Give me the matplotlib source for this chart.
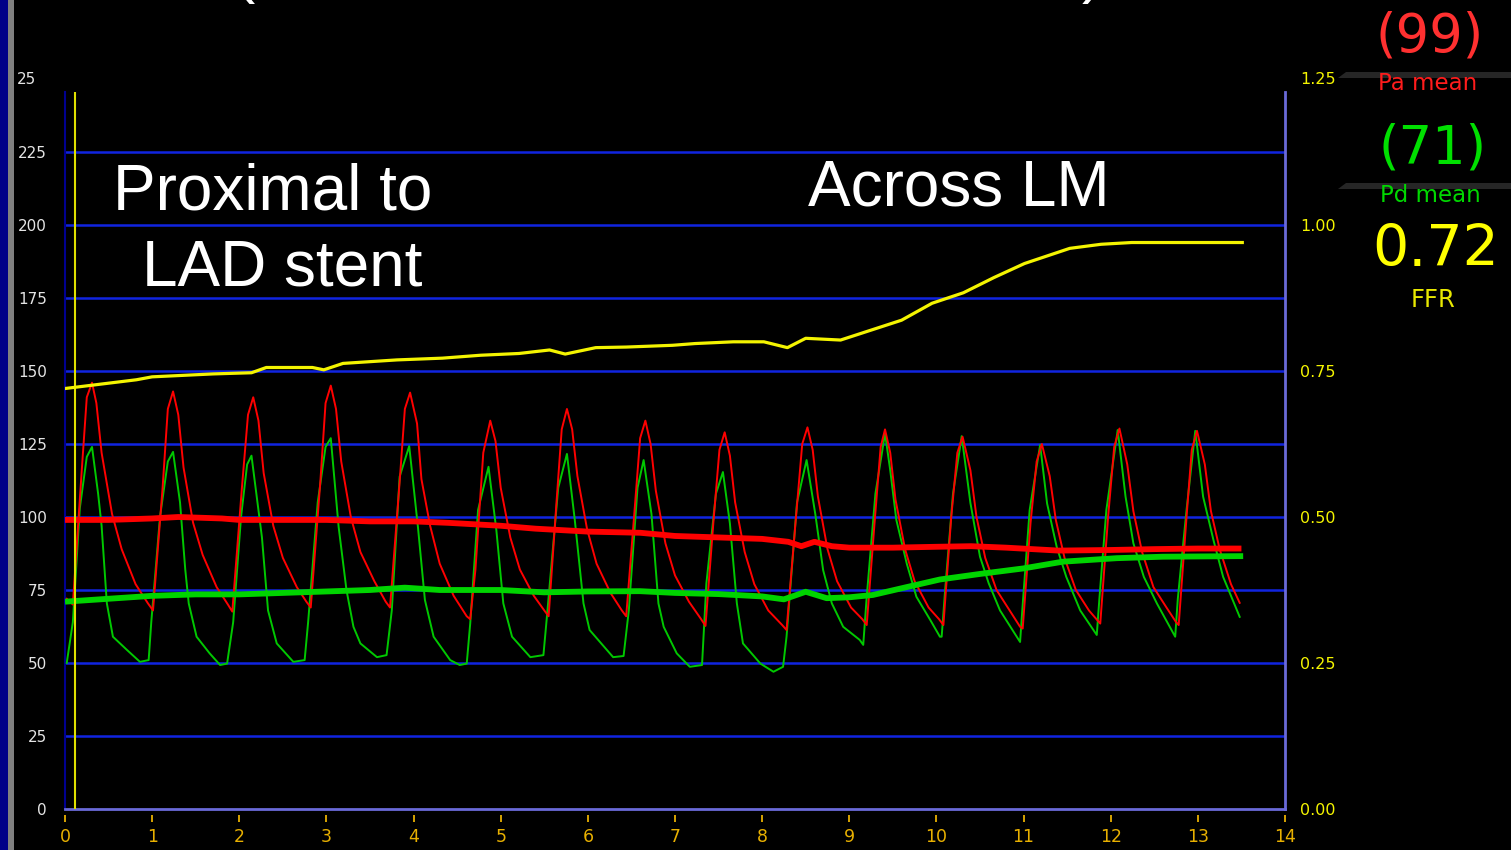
import matplotlib
matplotlib.use("Agg")
import matplotlib.pyplot as plt
import matplotlib.transforms as mtransforms
from matplotlib.patches import Polygon, Rectangle

# Pa (aortic) phasic pressure, mmHg, one line per beat
pa_time = [0.02, 0.06, 0.09,
           0.19, 0.25, 0.31, 0.36, 0.42, 0.54, 0.65, 0.81, 0.95, 1.01,
           1.12, 1.18, 1.24, 1.30, 1.36, 1.47, 1.58, 1.74, 1.87, 1.92,
           2.03, 2.10, 2.16, 2.22, 2.28, 2.39, 2.50, 2.66, 2.77, 2.82,
           2.93, 2.99, 3.05, 3.11, 3.17, 3.28, 3.39, 3.55, 3.68, 3.73,
           3.84, 3.90, 3.96, 4.04, 4.09, 4.19, 4.30, 4.46, 4.61, 4.65,
           4.71, 4.80, 4.88, 4.94, 5.00, 5.11, 5.22, 5.38, 5.50, 5.55,
           5.64, 5.70, 5.76, 5.82, 5.88, 5.99, 6.10, 6.26, 6.39, 6.44,
           6.53, 6.60, 6.66, 6.72, 6.78, 6.89, 7.00, 7.16, 7.30, 7.35,
           7.44, 7.51, 7.57, 7.63, 7.69, 7.80, 7.91, 8.07, 8.23, 8.28,
           8.38, 8.46, 8.52, 8.58, 8.64, 8.75, 8.86, 9.02, 9.15, 9.20,
           9.29, 9.36, 9.41, 9.47, 9.53, 9.64, 9.75, 9.91, 10.03, 10.08,
           10.17, 10.24, 10.30, 10.39, 10.46, 10.56, 10.69, 10.84, 10.96, 10.99,
           11.08, 11.15, 11.21, 11.30, 11.37, 11.47, 11.60, 11.75, 11.85, 11.88,
           11.97, 12.04, 12.10, 12.19, 12.26, 12.36, 12.49, 12.64, 12.75, 12.78,
           12.87, 12.93, 12.99, 13.08, 13.15, 13.25, 13.38, 13.48]
pa_press = [72, 71, 70,
            115, 141, 146, 139, 122, 101, 89, 77, 70.5, 68,
            110, 137, 143, 135, 117, 98, 87, 76, 70, 67.6,
            110, 135, 141, 133, 115, 97, 86, 76, 71, 69,
            112, 139, 145, 137, 119, 100, 88, 78, 71, 69,
            112, 137, 142.6, 132, 113, 97, 84, 73, 66, 65,
            82, 122, 133, 126, 110, 93, 82, 73, 68, 66,
            105, 130, 137, 130, 114, 96, 84, 74, 68, 66,
            100, 127, 133, 125, 109, 91, 80, 71, 65, 62.7,
            98, 123, 129, 121, 105, 88, 77, 68, 63, 61.3,
            97, 125, 130.7, 123, 107, 89, 78, 69, 65, 63,
            98, 124, 130, 122, 106, 89, 78, 69, 65, 63,
            100, 122, 127.5, 116, 100, 86, 75, 68, 62.4, 61.8,
            98, 119, 125, 114, 99, 86, 75, 68, 64.5, 63.5,
            100, 124, 130.3, 118, 102, 88, 76, 69, 64, 63,
            100, 123, 129.5, 118, 102, 89, 77, 70.6]

# Pd (distal) phasic pressure, mmHg
pd_time = [0.02, 0.09, 0.17, 0.25, 0.31, 0.38, 0.42, 0.48, 0.55, 0.71, 0.86, 0.96,
           0.99, 1.09, 1.18, 1.24, 1.32, 1.38, 1.42, 1.51, 1.66, 1.78, 1.86,
           1.93, 2.02, 2.09, 2.14, 2.26, 2.33, 2.43, 2.62, 2.75,
           2.79, 2.90, 2.99, 3.05, 3.14, 3.23, 3.31, 3.39, 3.58, 3.69,
           3.75, 3.84, 3.95, 4.05, 4.13, 4.23, 4.42, 4.53, 4.61,
           4.65, 4.74, 4.86, 4.95, 5.03, 5.13, 5.34, 5.49,
           5.53, 5.66, 5.76, 5.85, 5.95, 6.02, 6.29, 6.41,
           6.47, 6.57, 6.64, 6.73, 6.81, 6.87, 7.02, 7.17, 7.31,
           7.36, 7.47, 7.55, 7.63, 7.71, 7.78, 7.98, 8.13, 8.24,
           8.28, 8.40, 8.51, 8.61, 8.70, 8.80, 8.93, 9.12, 9.16,
           9.20, 9.30, 9.41, 9.47, 9.54, 9.66, 9.77, 9.93, 10.04, 10.06,
           10.10, 10.19, 10.29, 10.39, 10.50, 10.60, 10.73, 10.96,
           10.99, 11.07, 11.19, 11.27, 11.38, 11.49, 11.65, 11.84,
           11.87, 11.95, 12.08, 12.17, 12.26, 12.38, 12.53, 12.74,
           12.77, 12.87, 12.97, 13.06, 13.18, 13.29, 13.48]
pd_press = [50, 64, 103, 120.6, 124, 108, 97, 70.5, 59, 54.5, 50.4, 51,
            64, 100, 119, 122.3, 105, 82, 70.4, 59, 53.3, 49.3, 49.8,
            64, 100, 118, 121, 93, 68, 56.7, 50.4, 51,
            64, 105, 124, 127, 96.6, 75, 62.4, 56.7, 52, 52.7,
            68, 113.8, 124.3, 96.6, 71.6, 59, 51, 49.3, 49.8,
            63.5, 102.4, 117.2, 95.5, 70.4, 59, 52, 52.7,
            65.8, 110, 121.6, 99, 70.4, 61.3, 52, 52.4,
            68, 110, 119.5, 101, 70.4, 62.4, 53.3, 48.7, 49.3,
            77.2, 108, 115.4, 97.8, 70.4, 56.7, 49.8, 47, 48.7,
            59, 105, 119.5, 101, 81.8, 70.4, 62.4, 57.9, 56.2,
            72.6, 108, 128.6, 116, 99, 84, 72.7, 64.7, 59, 59,
            75, 108, 127.7, 104.8, 86.4, 77.3, 68, 57.2,
            70, 102.4, 124.7, 104.6, 89.8, 79.5, 68, 59.6,
            72, 102.4, 129.8, 107, 91, 79.5, 70.4, 59,
            72, 102.4, 129.5, 107, 92, 79.5, 65.8]

# running means, mmHg
pa_mean_time = [0.0, 0.5, 1.0, 1.3, 1.8, 2.0, 3.0, 3.5, 4.0, 4.4, 5.0, 5.4, 6.0,
                6.6, 7.0, 7.5, 8.0, 8.3, 8.45, 8.6, 8.8, 9.0, 9.5, 10.0, 10.4,
                10.8, 11.4, 12.0, 12.5, 13.0, 13.5]
pa_mean = [99, 99, 99.5, 100, 99.5, 99, 99, 98.5, 98.5, 98, 97, 96, 95,
           94.6, 93.5, 93, 92.5, 91.5, 90, 91.5, 90, 89.5, 89.5, 89.8, 90,
           89.5, 88.5, 88.7, 89, 89.2, 89.2]
pd_mean_time = [0.0, 0.5, 1.0, 1.5, 2.0, 2.5, 3.0, 3.5, 3.9, 4.3, 5.0, 5.5, 6.0,
                6.6, 7.0, 7.5, 8.0, 8.25, 8.5, 8.74, 9.0, 9.27, 9.66, 10.04,
                10.5, 11.0, 11.45, 12.07, 12.6, 13.52]
pd_mean = [71, 72, 73, 73.5, 73.5, 74, 74.5, 75, 75.8, 75, 75, 74.2, 74.5,
           74.6, 74, 73.6, 72.8, 71.8, 74.4, 72.2, 72.5, 73.3, 76, 78.6,
           80.5, 82.4, 84.7, 85.9, 86.4, 86.6]

# FFR trend (right axis)
ffr_time = [0.0, 0.82, 1.0, 1.70, 2.14, 2.31, 2.84, 2.97, 3.19, 3.81, 4.33, 4.77,
            5.21, 5.56, 5.74, 6.09, 6.44, 6.97, 7.23, 7.67, 8.02, 8.29, 8.50,
            8.90, 9.25, 9.60, 9.95, 10.31, 10.66, 11.01, 11.53, 11.89, 12.24, 13.51]
ffr = [0.72, 0.735, 0.74, 0.745, 0.747, 0.756, 0.756, 0.752, 0.763, 0.769, 0.772,
       0.777, 0.780, 0.786, 0.779, 0.790, 0.791, 0.794, 0.797, 0.800, 0.800,
       0.790, 0.806, 0.803, 0.820, 0.837, 0.866, 0.884, 0.910, 0.934, 0.960,
       0.967, 0.970, 0.970]

cursor_time = 0.115
x_ticks = list(range(0, 15))
p_ticks = list(range(0, 250, 25))
ffr_ticks = [0.0, 0.25, 0.5, 0.75, 1.0]

W, H = 1511, 850
RED = "#ff0000"
GREEN = "#00c800"
YELLOW = "#f4f400"
GRID = "#1024e0"
FRAME = "#6a6ad8"
GOLD = "#e8b000"

fig = plt.figure(figsize=(W / 100, H / 100), dpi=100, facecolor="black")

# left edge strip
fig.patches.append(Rectangle((0, 0), 8 / W, 1, transform=fig.transFigure,
                             facecolor="#000088", edgecolor="none"))
fig.patches.append(Rectangle((8 / W, 0), 6 / W, 1, transform=fig.transFigure,
                             facecolor="#808080", edgecolor="none"))

ax = fig.add_axes([65 / W, 41 / H, 1220 / W, 717 / H], facecolor="black")
ymax = 717 / 2.92
ax.set_xlim(0, 14)
ax.set_ylim(0, ymax)

for v in p_ticks[1:]:
    ax.axhline(v, color=GRID, lw=1.8, zorder=1)

ax.plot(pd_time, pd_press, color=GREEN, lw=1.4, zorder=3)
ax.plot(pa_time, pa_press, color=RED, lw=1.4, zorder=3)
ax.plot(pd_mean_time, pd_mean, color="#00d400", lw=4.2, zorder=4,
        solid_capstyle="butt")
ax.plot(pa_mean_time, pa_mean, color=RED, lw=4.2, zorder=4,
        solid_capstyle="butt")
ax.axvline(cursor_time, color="#e0e000", lw=1.5, zorder=6)

for side in ["top", "right"]:
    ax.spines[side].set_visible(False)
ax.spines["left"].set_color("#000090")
ax.spines["left"].set_linewidth(1.5)
ax.spines["bottom"].set_position(("outward", 4.5))
ax.spines["bottom"].set_visible(False)
ax.axhline(0, color=FRAME, lw=2, zorder=5, clip_on=False)

ax.set_xticks(x_ticks)
ax.tick_params(axis="x", colors=GOLD, length=5, width=1.3, pad=4, labelsize=12.5)
ax.set_yticks(p_ticks)
ax.tick_params(axis="y", length=0, pad=13, labelcolor="#e4e4e4", labelsize=11)
lab_tr = mtransforms.blended_transform_factory(fig.transFigure, ax.transData)
ax.text(17 / W, 250, "25", transform=lab_tr, color="#e4e4e4", fontsize=11,
        ha="left", va="center", clip_on=False)

# FFR on the right-hand scale
ax2 = ax.twinx()
ax2.set_ylim(0, ymax / 200)
ax2.plot(ffr_time, ffr, color=YELLOW, lw=2.3, zorder=4)
for side in ["top", "left", "bottom"]:
    ax2.spines[side].set_visible(False)
ax2.spines["right"].set_color(FRAME)
ax2.spines["right"].set_linewidth(2)
ax2.set_yticks(ffr_ticks)
ax2.set_yticklabels([f"{v:.2f}" for v in ffr_ticks])
ax2.tick_params(axis="y", length=0, pad=11, labelcolor=YELLOW, labelsize=11.5)
ffr_tr = mtransforms.blended_transform_factory(fig.transFigure, ax2.transData)
ax2.text(1300 / W, 1.25, "1.25", transform=ffr_tr, color=YELLOW, fontsize=11.5,
         ha="left", va="center", clip_on=False)

# annotations
fig.text(273 / W, 1 - 210 / H, "Proximal to", color="white", fontsize=46,
         family="Liberation Sans", ha="center", va="baseline")
fig.text(282 / W, 1 - 286 / H, "LAD stent", color="white", fontsize=46,
         family="Liberation Sans", ha="center", va="baseline")
fig.text(959 / W, 1 - 205 / H, "Across LM", color="white", fontsize=46,
         family="Liberation Sans", ha="center", va="baseline")
fig.text(245 / W, 1 + 9 / H, "(", color="white", fontsize=46,
         family="Liberation Sans", ha="center", va="baseline")
fig.text(1092 / W, 1 + 9 / H, ")", color="white", fontsize=46,
         family="Liberation Sans", ha="center", va="baseline")

# readout panel
for y0 in (72, 183):
    fig.patches.append(Polygon([(1338 / W, 1 - (y0 + 6) / H), (1346 / W, 1 - y0 / H),
                                (1, 1 - y0 / H), (1, 1 - (y0 + 6) / H)],
                               closed=True, transform=fig.transFigure,
                               facecolor="#262626", edgecolor="none"))

fig.text(1430 / W, 1 - 37 / H, f"({pa_mean[0]:.0f})", color="#ff3030",
         fontsize=38, ha="center", va="center")
fig.text(1428 / W, 1 - 83 / H, "Pa mean", color="#ff1c1c", fontsize=16.5,
         ha="center", va="center")
fig.text(1433 / W, 1 - 149 / H, f"({pd_mean[0]:.0f})", color="#00e000",
         fontsize=38, ha="center", va="center")
fig.text(1430 / W, 1 - 195 / H, "Pd mean", color="#00d800", fontsize=16.5,
         ha="center", va="center")
fig.text(1436 / W, 1 - 250 / H, f"{ffr[0]:.2f}", color="#ffff00",
         fontsize=41, ha="center", va="center")
fig.text(1433 / W, 1 - 300 / H, "FFR", color="#e8e800", fontsize=17.5,
         ha="center", va="center")

fig.savefig("out.png", dpi=100, facecolor="black")
